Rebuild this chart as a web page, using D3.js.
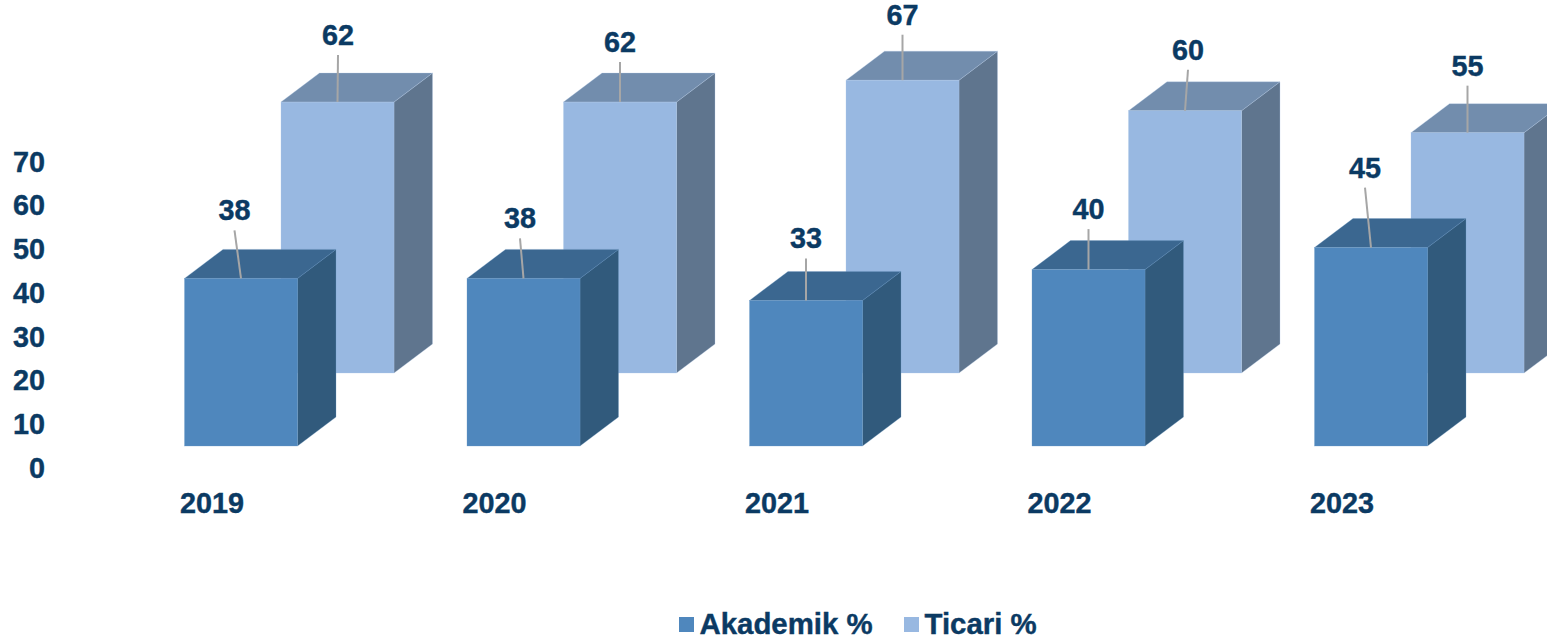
<!DOCTYPE html>
<html>
<head>
<meta charset="utf-8">
<script src="https://cdn.jsdelivr.net/npm/d3@7/dist/d3.min.js"></script>
<style>
  html, body { margin: 0; padding: 0; background: #fff; overflow: hidden; }
  svg { display: block; }
  text { font-family: "Liberation Sans", Arial, sans-serif; font-weight: 700; fill: #0b3a63; stroke: #0b3a63; stroke-width: 0.4px; }
  .axis path, .axis line { display: none; }
  .axis text { font-size: 28.8px; font-family: "Liberation Sans", Arial, sans-serif; font-weight: 700; fill: #0b3a63; }
</style>
</head>
<body>
<svg id="chart" width="1547" height="640"></svg>
<script>
// Share of publications per year, by type
const years = ["2019", "2020", "2021", "2022", "2023"];
const akademik = [38, 38, 33, 40, 45];
const ticari = [62, 62, 67, 60, 55];
const yTicks = [0, 10, 20, 30, 40, 50, 60, 70];
const seriesNames = ["Akademik %", "Ticari %"];

// Leader-line tweaks per year: horizontal shift of the label and line length
const akademikLeaders = [[-6.5, 48], [-3.5, 40], [0, 42], [0, 40.5], [-6, 60]];
const ticariLeaders = [[0.5, 47], [0, 40], [0, 45.5], [3, 41], [0, 47]];

const W = 1547, H = 640;
const svg = d3.select("#chart");

// Box look: width of the face and the oblique depth vector
const faceW = 113, depthX = 38.5, depthY = 29;

const x = d3.scalePoint().domain(years).range([184.5, 1314.5]);
const backShift = 96.5;

// Each row of boxes sits on its own floor line in the oblique view
const yFront = d3.scaleLinear().domain([0, 70]).range([446, 446 - 70 * 4.41]);
const yBack = d3.scaleLinear().domain([0, 70]).range([373, 373 - 70 * 4.37]);
const yAxisScale = d3.scaleLinear().domain([0, 70]).range([468, 162]);

const palette = {
  akademik: { face: "#4f87bd", top: "#3b6790", side: "#315a7c", edge: "#6f9bc6" },
  ticari: { face: "#98b8e1", top: "#728dad", side: "#5f758e", edge: "#b0c9e8" }
};

function pts(list) { return list.map(p => p.join(",")).join(" "); }

function drawBoxes(cls, values, y, shift, colors, leaders) {
  const g = svg.append("g").attr("class", cls);
  const base = y(0);
  const box = g.selectAll("g.box").data(values).join("g").attr("class", "box");

  const left = (d, i) => x(years[i]) + shift;

  box.append("polygon") // side
    .attr("points", (d, i) => {
      const r = left(d, i) + faceW, t = y(d);
      return pts([[r, t], [r + depthX, t - depthY], [r + depthX, base - depthY], [r, base]]);
    })
    .attr("fill", colors.side).attr("stroke", colors.edge).attr("stroke-width", 0.3);

  box.append("polygon") // top
    .attr("points", (d, i) => {
      const l = left(d, i), t = y(d);
      return pts([[l, t], [l + depthX, t - depthY], [l + faceW + depthX, t - depthY], [l + faceW, t]]);
    })
    .attr("fill", colors.top).attr("stroke", colors.edge).attr("stroke-width", 0.3);

  box.append("rect") // front face
    .attr("x", (d, i) => left(d, i))
    .attr("y", d => y(d))
    .attr("width", faceW)
    .attr("height", d => base - y(d))
    .attr("fill", colors.face).attr("stroke", colors.edge).attr("stroke-width", 0.3);

  box.append("line") // leader from the label to the box
    .attr("x1", (d, i) => left(d, i) + faceW / 2 + leaders[i][0])
    .attr("y1", (d, i) => y(d) - leaders[i][1])
    .attr("x2", (d, i) => left(d, i) + faceW / 2)
    .attr("y2", d => y(d))
    .attr("stroke", "#a6a6a6").attr("stroke-width", 2);

  box.append("text") // value label
    .attr("x", (d, i) => left(d, i) + faceW / 2 + leaders[i][0])
    .attr("y", (d, i) => y(d) - leaders[i][1] - 10)
    .attr("text-anchor", "middle")
    .attr("font-size", 28.8)
    .text(d => d);
}

drawBoxes("ticari", ticari, yBack, backShift, palette.ticari, ticariLeaders);
drawBoxes("akademik", akademik, yFront, 0, palette.akademik, akademikLeaders);

// Axes: labels only
svg.append("g").attr("class", "axis")
  .attr("transform", "translate(45,0)")
  .call(d3.axisLeft(yAxisScale).tickValues(yTicks).tickSize(0).tickPadding(0).tickFormat(d3.format("d")));

svg.append("g").attr("class", "axis")
  .attr("transform", "translate(27,492.5)")
  .call(d3.axisBottom(x).tickSize(0).tickPadding(0));

// Legend
const legendX = [679, 904];
const legendColors = [palette.akademik.face, palette.ticari.face];
const legend = svg.append("g").selectAll("g").data(seriesNames).join("g")
  .attr("transform", (d, i) => `translate(${legendX[i]},617)`);
legend.append("rect").attr("width", 15).attr("height", 15).attr("fill", (d, i) => legendColors[i]);
legend.append("text").attr("x", 20.5).attr("y", 17).attr("font-size", 29.4).text(d => d);
</script>
</body>
</html>
